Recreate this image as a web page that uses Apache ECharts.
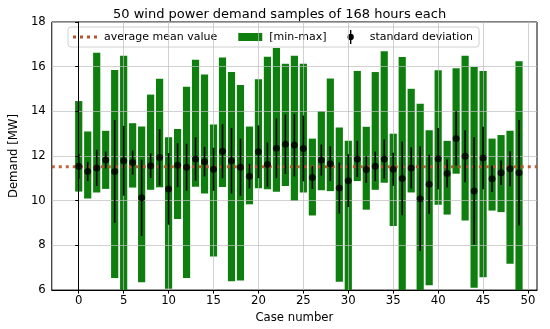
<!DOCTYPE html>
<html>
<head>
<meta charset="utf-8">
<script src="https://cdn.jsdelivr.net/npm/echarts@6/dist/echarts.min.js"></script>
<style>html,body{margin:0;padding:0;background:#fff}#c{width:550px;height:329px}</style>
</head>
<body>
<div id="c"></div>
<script>
const cases = [0,1,2,3,4,5,6,7,8,9,10,11,12,13,14,15,16,17,18,19,20,21,22,23,24,25,26,27,28,29,30,31,32,33,34,35,36,37,38,39,40,41,42,43,44,45,46,47,48,49];
const maxVals = [14.46,13.10,16.62,13.13,15.85,16.49,13.47,13.32,14.75,15.46,12.84,13.21,15.10,16.31,15.65,13.41,16.41,15.76,15.18,13.32,15.44,16.44,16.84,16.13,16.49,16.13,12.78,14.01,15.47,13.28,12.69,15.81,13.31,15.76,16.69,13.00,16.43,15.01,14.34,13.16,15.84,12.68,15.93,16.49,15.99,15.81,12.78,12.94,13.13,16.24];
const minVals = [10.41,10.10,10.37,10.53,6.54,5.80,10.59,6.35,10.49,10.60,6.06,9.18,6.54,10.63,10.32,7.50,10.62,6.40,6.43,9.84,10.56,10.51,10.40,10.66,9.99,10.37,9.34,10.47,10.43,6.37,5.80,10.88,9.60,10.49,10.81,8.87,5.80,10.37,5.95,6.22,9.82,9.38,11.21,9.12,6.10,6.57,9.56,9.49,7.18,5.80];
const meanVals = [11.54,11.31,11.47,11.82,11.31,11.79,11.71,10.13,11.57,11.94,10.53,11.59,11.50,11.87,11.75,11.41,12.22,11.79,11.50,11.10,12.19,11.62,12.35,12.53,12.49,12.34,11.04,11.82,11.66,10.57,10.90,11.87,11.40,11.54,11.87,11.41,11.00,11.47,10.09,10.74,11.88,11.22,12.79,11.99,10.44,11.91,10.98,11.25,11.43,11.25];
const stdVals = [0.55,0.43,0.81,0.38,2.30,1.56,0.54,1.71,0.55,1.26,1.60,0.98,1.05,0.97,0.66,0.96,1.21,1.47,1.28,0.55,1.18,0.99,1.34,1.33,1.40,1.47,0.51,0.70,0.78,1.14,1.18,0.81,0.59,0.66,0.88,0.74,1.65,0.92,2.34,1.32,1.37,0.63,1.21,1.16,2.40,1.40,0.59,0.55,0.78,2.36];
const xTicks = [0,5,10,15,20,25,30,35,40,45,50];
const avgMean = meanVals.reduce((a,b)=>a+b,0)/meanVals.length;

const FONT = 'DejaVu Sans';
const chart = echarts.init(document.getElementById('c'), null, {renderer:'canvas'});

function clipTo(params, r){
  const cs = params.coordSys;
  return echarts.graphic.clipRectByRect(r, {x:cs.x, y:cs.y, width:cs.width, height:cs.height});
}

const option = {
  animation: false,
  backgroundColor: '#fff',
  title: {
    text: '50 wind power demand samples of 168 hours each',
    left: 108, top: 3,
    textStyle: {fontFamily: FONT, fontSize: 13, fontWeight: 'normal', color: '#000'}
  },
  legend: {
    left: 68, top: 27,
    padding: [3, 6, 3, 5],
    itemWidth: 24, itemHeight: 14, itemGap: 21,
    symbolKeepAspect: true,
    backgroundColor: 'rgba(255,255,255,0.85)',
    borderColor: '#d0d0d0', borderWidth: 1, borderRadius: 3,
    textStyle: {fontFamily: FONT, fontSize: 11, color: '#000', padding: [0,0,0,2]},
    data: [
      {name: 'average mean value', icon: 'path://M0,0h3v3h-3z M7,0h3v3h-3z M14,0h3v3h-3z M21,0h3v3h-3z'},
      {name: '[min-max]', icon: 'path://M0,0h24v8h-24z'},
      {name: 'standard deviation', icon: 'path://M3.5,0L5.5,0L5.5,20L3.5,20Z M0,10A4.5,4.5 0 1 1 9,10A4.5,4.5 0 1 1 0,10Z'}
    ]
  },
  grid: {left: 40, right: 13, top: 22, bottom: 35, show: true, borderColor: '#000', borderWidth: 1, backgroundColor: 'transparent'},
  xAxis: {
    type: 'value', min: -3, max: 51, z: 5,
    name: 'Case number', nameLocation: 'middle', nameGap: 19,
    nameTextStyle: {fontFamily: FONT, fontSize: 11.7, color: '#000'},
    axisLine: {show: true, onZero: false, lineStyle: {color: '#000', width: 1}},
    axisTick: {show: true, length: 3.5, customValues: xTicks, lineStyle: {color: '#000'}},
    axisLabel: {customValues: xTicks, margin: 5, fontFamily: FONT, fontSize: 11.7, color: '#000'},
    splitLine: {show: true, lineStyle: {color: 'rgba(190,190,190,0.7)', width: 1}}
  },
  yAxis: {
    type: 'value', min: 6, max: 18, interval: 2, z: 5,
    name: 'Demand [MW]', nameLocation: 'middle', nameGap: 26,
    nameTextStyle: {fontFamily: FONT, fontSize: 11.7, color: '#000'},
    axisLine: {show: true, lineStyle: {color: '#000', width: 1}},
    axisTick: {show: true, length: 3.5, lineStyle: {color: '#000'}},
    axisLabel: {margin: 6, fontFamily: FONT, fontSize: 11.7, color: '#000'},
    splitLine: {show: true, lineStyle: {color: 'rgba(190,190,190,0.7)', width: 1}}
  },
  series: [
    {
      name: '[min-max]', type: 'custom', z: 2,
      itemStyle: {color: '#0e7f0e'},
      data: cases.map((c,i)=>[c, minVals[i], maxVals[i]]),
      renderItem: function(params, api){
        const x = api.value(0), lo = api.value(1), hi = api.value(2);
        const p1 = api.coord([x - 0.4, hi]);
        const p2 = api.coord([x + 0.4, lo]);
        const r = clipTo(params, {x: p1[0], y: p1[1], width: p2[0]-p1[0], height: p2[1]-p1[1]});
        return r && {type: 'rect', shape: r, style: {fill: '#0e7f0e'}};
      }
    },
    {
      name: 'average mean value', type: 'line', z: 6,
      data: [[-3, avgMean], [51, avgMean]],
      showSymbol: false, symbol: 'none',
      itemStyle: {color: '#b5532b'},
      lineStyle: {color: '#b5532b', width: 3, type: [3, 4], cap: 'butt', opacity: 0.9}
    },
    {
      name: 'standard deviation', type: 'custom', z: 7,
      itemStyle: {color: '#000'},
      data: cases.map((c,i)=>[c, meanVals[i]-stdVals[i], meanVals[i]+stdVals[i]]),
      renderItem: function(params, api){
        const x = api.value(0);
        const a = api.coord([x, api.value(1)]);
        const b = api.coord([x, api.value(2)]);
        return {type: 'line', shape: {x1: a[0], y1: a[1], x2: b[0], y2: b[1]}, style: {stroke: '#000', lineWidth: 1.6}};
      }
    },
    {
      name: 'standard deviation', type: 'scatter', z: 8,
      symbol: 'circle', symbolSize: 7,
      itemStyle: {color: '#000'},
      data: cases.map((c,i)=>[c, meanVals[i]])
    }
  ]
};
chart.setOption(option);
</script>
</body>
</html>
